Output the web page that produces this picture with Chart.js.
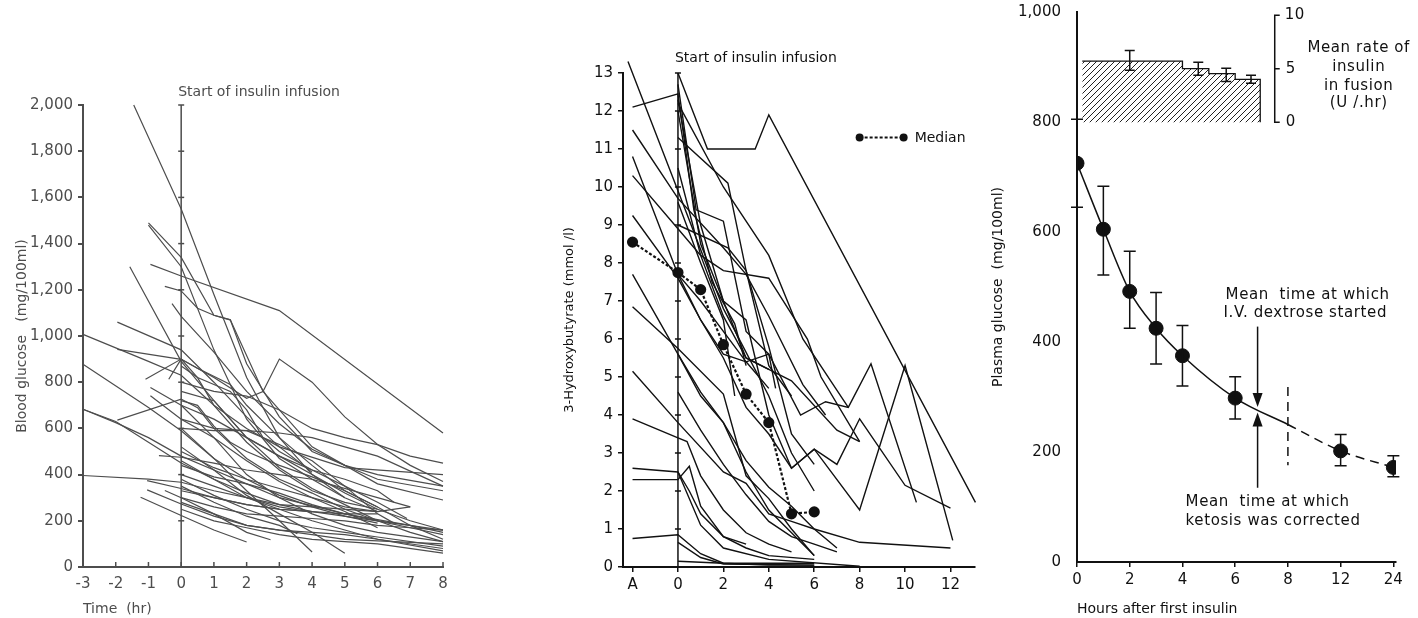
<!DOCTYPE html>
<html>
<head>
<meta charset="utf-8">
<script src="https://cdn.jsdelivr.net/npm/chart.js@4.4.0/dist/chart.umd.min.js"></script>
<style>
  body { margin: 0; background: #fff; width: 1418px; height: 618px; overflow: hidden; position: relative; }
  canvas { position: absolute; top: 0; }
</style>
</head>
<body>
<canvas id="bg" style="left:0px" width="470" height="618"></canvas>
<canvas id="hb" style="left:540px" width="450" height="618"></canvas>
<canvas id="pg" style="left:960px" width="458" height="618"></canvas>
<script>
const FONT = 'DejaVu Sans';

// ---- left panel: blood glucose per patient, [hour, mg/100ml]
const bgLines = [
  [[-1.45,2000],[0,1550],[1,1180],[2,820],[3,560],[4,400],[5,300],[6,240]],
  [[-1,1490],[0,1340],[1,1090],[1.5,1070],[2.5,760],[4,520],[6,360],[8,290]],
  [[-1,1480],[0,1300],[1,940],[2,640],[3,470],[4,380],[5,300]],
  [[-0.94,1310],[0,1260],[3,1110],[8,580]],
  [[-1.57,1300],[0,890],[1,720],[2,560],[3,430],[4,340],[5,270],[6,200]],
  [[-0.5,1215],[0,1195],[0.5,1120],[1,1090],[1.5,1070],[2,880],[3,650],[4,500],[6,380],[8,330]],
  [[-0.28,1140],[0,1085],[1,930],[2,760],[3,620],[4,510],[5,440],[6,400],[8,350]],
  [[-1.95,1060],[0,940],[1,800],[2,650],[3,520],[4,410]],
  [[-3,1007],[-1,890],[0,830],[1,700],[2,600],[3,520],[5,430],[8,400]],
  [[-1.95,942],[0,899],[1,820],[2,730],[2.5,760],[3,900],[4,800],[5,650],[6,530],[7,440],[8,370]],
  [[-3,878],[-1,690],[0,590],[1,470],[2,380],[3,310],[4,260],[5,220],[6,190]],
  [[-3,683],[-2,630],[-1,540],[0,450],[1,380],[2,320],[3,270],[4,240],[6,200],[8,160]],
  [[-3,683],[-2,625],[-1,560],[0,480],[1,420],[2,360],[3,300],[5,230],[7,180],[8,150]],
  [[-3,396],[-1,380],[0,367],[1,330],[2,300],[3,270],[4,260],[6,240],[7,260]],
  [[-1.95,636],[0,727],[0.5,690],[1,600],[2,470],[3,380],[4,320],[5,250],[6,200],[7,150],[8,110]],
  [[-1.09,813],[0,900],[0.5,860],[1.5,790],[2,700],[3,560],[4,440],[5,330],[6,260]],
  [[-0.38,813],[0,900],[0.5,820],[1,700],[2,540],[3,420],[4,330],[5,280],[6,250]],
  [[-0.94,777],[0,700],[1,640],[2,560],[3,480],[4,400],[5,320],[6,250],[7,200],[8,160]],
  [[-0.94,741],[0,640],[1,560],[2,460],[3,370],[4,300],[5,240],[6,170]],
  [[-0.68,482],[0,475],[1,450],[2,420],[3,400],[4,380],[6,300],[7,260]],
  [[-1.04,374],[0,340],[1,300],[2,270],[3,250],[4,240]],
  [[-1.04,334],[0,273],[1,220],[2,180],[3,160],[4,140],[5,120],[8,100]],
  [[-1.24,302],[0,223],[1,160],[2,108]],
  [[-0.5,331],[0,300],[1,230],[2,150],[2.73,118]],
  [[0,800],[0.5,780],[1,760],[2,740],[3,680],[4,600],[5,560],[6,530],[7,480],[8,450]],
  [[0,760],[1,720],[1.5,640],[2,560],[3,480],[4,420],[5,350],[6,280],[6.9,210]],
  [[0,720],[0.5,700],[1,610],[1.5,540],[2,500],[3,440],[4,390],[5,330],[6,260],[7,180],[8,120]],
  [[0,700],[1,560],[2,400],[3,300],[4,230],[5,180],[6,150],[8,110]],
  [[0,600],[1,590],[2,590],[3,580],[4,560],[6,480],[8,350]],
  [[0,640],[1,600],[2,590],[3,530],[4,460],[5,350],[6,230],[6.5,190]],
  [[0,600],[1,470],[2,330],[3,200],[4,65]],
  [[0,520],[1,420],[2,310],[3,230],[4,150],[5,60]],
  [[0,500],[1,430],[2,380],[3,340],[4,300],[5,260],[6,240]],
  [[0,460],[1,380],[2,300],[3,260],[4,237]],
  [[0,440],[1,390],[2,360],[3,320],[4,270],[5,230],[6,200],[7,170],[8,140]],
  [[0,400],[1,350],[2,300],[3,250],[4,200],[5,160],[6,120],[8,80]],
  [[0,380],[1,310],[2,250],[3,200],[4,170],[5,150],[6,130],[8,90]],
  [[0,350],[1,280],[2,220],[3,180],[3.55,144]],
  [[0,330],[1,300],[2,270],[3,250],[4,240],[5,230],[6,230]],
  [[0,300],[1,260],[2,230],[3,220],[4,210],[5,200],[6,180],[7,170],[8,160]],
  [[0,280],[1,230],[2,180],[3,160],[4,150],[5,140],[6,120],[8,70]],
  [[0,250],[1,200],[2,170],[3,140],[4,120],[6,100],[8,60]],
  [[0,870],[0.5,820],[1.5,760],[2,680],[2.5,560],[3,500],[4,420],[5,380],[6,330],[6.5,280]]
];

// ---- middle panel: 3-hydroxybutyrate per patient, [hour, mmol/l]; A plotted at -2
const hbLines = [
  [[-2.2,13.3],[0,9.9],[2,6.8],[4,4.5],[5,3.0],[6,2.0]],
  [[-2,12.1],[0,12.45],[0.7,9.4],[1.5,7.5],[2.5,6.4],[3,5.3]],
  [[-2,11.5],[0,9.7],[2,8.4],[3,7.7],[4,6.6],[5.5,4.8],[6.5,4.0]],
  [[-2,10.8],[0,7.7],[1,6.5],[2,5.6],[3,5.4],[4,5.6],[4.3,4.7]],
  [[-2,10.3],[0,8.9],[1,8.2],[2,7.8],[4,7.6],[5.7,6.0],[6.3,5.0],[8,3.3]],
  [[-2,9.25],[0,7.6],[1,6.5],[2,5.5],[3,4.2],[4,3.5],[5,2.6],[6,3.1],[8,1.5],[10,5.3],[12.1,0.7]],
  [[-2,7.7],[0,5.6],[1,4.6],[2,3.8],[3,2.8],[4,2.1],[5,1.6],[6,1.0],[7,0.5]],
  [[-2,6.85],[0,5.75],[2,4.55],[3,2.4],[4,1.8],[5,1.0],[6,0.3]],
  [[-2,5.15],[0,3.8],[2,2.5],[3,2.2],[4,1.4],[5,1.2],[6,1.0],[8,0.65],[12,0.5]],
  [[-2,3.9],[0,3.4],[0.4,3.3],[1,2.4],[2,1.5],[3,0.9],[4,0.6],[5,0.4]],
  [[-2,2.6],[0,2.5],[0.5,2.0],[1,1.4],[2,0.8],[3,0.6]],
  [[-2,2.3],[0,2.3],[0.5,2.65],[1,1.6],[2,0.8],[3,0.5],[4,0.3],[6,0.2]],
  [[-2,0.75],[0,0.85],[1,0.35],[2,0.1],[4,0.05],[6,0.05]],
  [[0,0.65],[1,0.25],[2,0.08],[6,0.05]],
  [[0,0.15],[2,0.1],[6,0.1]],
  [[0,13],[1.3,11],[3.4,11],[4,11.9],[13.1,1.7]],
  [[0,12.7],[0.8,9.4],[2,9.1],[3,6.2],[4,5.6],[5.4,4.0],[6.5,4.35],[7.5,4.2],[8.5,5.35],[10.5,1.7]],
  [[0,11.3],[2.2,10.1],[3,7.8],[4,5.3],[5,4.5]],
  [[0,12.3],[1,9.0],[2,7.0],[3,5.5],[4,5.2],[5,4.9],[7,3.6],[8,3.3]],
  [[0,9.6],[1,8.0],[2,6.5],[2.5,4.5]],
  [[0,4.6],[1,3.6],[2,2.7],[3,1.9],[4,1.2],[5,0.8],[6,0.6],[7,0.4]],
  [[0,5.6],[1,4.5],[2,3.8],[3,2.5],[4,1.5],[5,0.9],[6,0.3]],
  [[0,12.0],[1,8.5],[2,7.0],[3,6.5],[4,4.0],[5,2.6],[6,3.1],[7,2.7],[8,3.9],[10,2.15],[12,1.55]],
  [[0,10.5],[1,8.2],[2,6.6],[3,5.5],[4,5.2]],
  [[0,7.7],[1,7.0],[2,6.2],[3,5.4],[4,4.7]],
  [[0,9.0],[2.2,8.4],[3,7.8],[4,5.8],[5,3.5],[6,2.7]],
  [[0,12.2],[2,10],[4,8.2],[5.5,6.0],[7.5,4.2]],
  [[0,2.5],[1,1.1],[2,0.5],[4,0.2],[8,0.02]]
];
const hbMedianHours = [-2, 0, 1, 2, 3, 4, 5, 6];
const hbMedian = [8.55, 7.75, 7.3, 5.85, 4.55, 3.8, 1.4, 1.45];
const hbTickHours = [-2, 0, 2, 4, 6, 8, 10, 12];
const hbTickLabels = ['A', '0', '2', '4', '6', '8', '10', '12'];

// ---- right panel: mean plasma glucose (mg/100ml)
const pgHours = [0, 1, 2, 3, 4, 6, 12, 24];
const pgMean = [725, 605, 492, 425, 375, 298, 202, 172];
const pgLow = [645, 522, 425, 360, 320, 260, 175, 155];
const pgHigh = [805, 683, 565, 490, 430, 337, 232, 193];
const pgCurveHours = [0, 1, 2, 3, 4, 6, 8];
const pgCurve = [725, 605, 492, 425, 375, 298, 250];
const pgDashHours = [8, 12, 24];
const pgDash = [250, 202, 172];
const pgTickHours = [0, 2, 4, 6, 8, 12, 24];
// insulin infusion rate (U/hr)
const insHours = [0.2, 4, 5, 6, 6.95];
const insRate = [5.7, 5.0, 4.55, 4.0, 4.0];
const insBarHours = [2, 4.6, 5.66, 6.6];
const insBarMean = [5.7, 5.0, 4.55, 4.0];
const insBarLow = [4.85, 4.4, 3.8, 3.65];
const insBarHigh = [6.7, 5.6, 5.05, 4.4];
const ketosisHour = 6.85;

// hours axis of the right panel is squeezed after 8 h
function hpos(h) {
  if (h <= 8) return h / 2;
  if (h <= 12) return 4 + (h - 8) / 4;
  return 5 + (h - 12) / 12;
}

function xy(xs, ys) { return xs.map((x, i) => ({x: x, y: ys[i]})); }

function spaghetti(lines, color, width) {
  return lines.map(l => ({
    data: l.map(p => ({x: p[0], y: p[1]})),
    borderColor: color, borderWidth: width,
    pointRadius: 0, tension: 0, clip: false
  }));
}

// ---------------- left: blood glucose
const grey = '#4d4d4d';
new Chart(document.getElementById('bg'), {
  type: 'line',
  data: { datasets: spaghetti(bgLines, grey, 1.2) },
  options: {
    responsive: false, animation: false,
    layout: { padding: { top: 105, right: 27, left: 0, bottom: 0 } },
    plugins: { legend: { display: false }, tooltip: { enabled: false } },
    scales: {
      x: {
        type: 'linear', min: -3, max: 8,
        afterFit: s => { s.height = 51; },
        border: { color: grey, width: 2 },
        grid: { drawOnChartArea: false, drawTicks: false },
        ticks: { stepSize: 1, color: grey, padding: 8, font: { family: FONT, size: 15 },
                 callback: v => String(v) },
        title: { display: true, text: 'Time  (hr)', align: 'start', color: grey,
                 padding: { top: 0, bottom: 0 }, font: { family: FONT, size: 14 } }
      },
      y: {
        min: 0, max: 2000,
        afterFit: s => { s.width = 83; },
        border: { color: grey, width: 2 },
        grid: { drawOnChartArea: false, tickLength: 5, color: grey, lineWidth: 2 },
        ticks: { stepSize: 200, color: grey, padding: 5, font: { family: FONT, size: 15 },
                 callback: v => v.toLocaleString('en-US') },
        title: { display: true, text: 'Blood glucose   (mg/100ml)', color: grey,
                 padding: { top: 14, bottom: 0 }, font: { family: FONT, size: 14 } }
      }
    }
  },
  plugins: [{
    id: 'bgDecor',
    afterDraw(chart) {
      const c = chart.ctx, x = chart.scales.x, y = chart.scales.y;
      c.save();
      c.strokeStyle = grey; c.lineWidth = 1.5;
      const x0 = x.getPixelForValue(0);
      c.beginPath(); c.moveTo(x0, y.getPixelForValue(0)); c.lineTo(x0, y.getPixelForValue(2000)); c.stroke();
      for (let v = 200; v <= 2000; v += 200) {
        const py = y.getPixelForValue(v);
        c.beginPath(); c.moveTo(x0 - 3, py); c.lineTo(x0 + 3, py); c.stroke();
      }
      const base = y.getPixelForValue(0);
      for (let h = -2; h <= 8; h++) {
        const px = x.getPixelForValue(h);
        c.beginPath(); c.moveTo(px, base); c.lineTo(px, base - 5); c.stroke();
      }
      c.fillStyle = grey; c.font = '14px ' + FONT; c.textBaseline = 'middle';
      c.fillText('Start of insulin infusion', x0 - 3, 92);
      c.restore();
    }
  }]
});

// ---------------- middle: 3-hydroxybutyrate
const ink = '#111';
const hbSets = spaghetti(hbLines, ink, 1.4);
hbSets.push({
  data: xy(hbMedianHours, hbMedian),
  borderColor: ink, borderWidth: 2.2, borderDash: [3, 2],
  pointRadius: 4.5, pointBackgroundColor: ink, pointBorderColor: ink, tension: 0, clip: false
});
new Chart(document.getElementById('hb'), {
  type: 'line',
  data: { datasets: hbSets },
  options: {
    responsive: false, animation: false,
    layout: { padding: { top: 73, right: 15, left: 0, bottom: 0 } },
    plugins: { legend: { display: false }, tooltip: { enabled: false } },
    scales: {
      x: {
        type: 'linear', min: -2.42, max: 13.08,
        afterFit: s => { s.height = 51; },
        afterBuildTicks: s => { s.ticks = hbTickHours.map(v => ({value: v})); },
        border: { color: ink, width: 2 },
        grid: { drawOnChartArea: false, tickLength: 5, color: ink, lineWidth: 1.5 },
        ticks: { color: ink, padding: 4, font: { family: FONT, size: 15 },
                 callback: (v, i) => hbTickLabels[i] }
      },
      y: {
        min: 0, max: 13,
        afterFit: s => { s.width = 83; },
        border: { color: ink, width: 2 },
        grid: { drawOnChartArea: false, tickLength: 5, color: ink, lineWidth: 1.5 },
        ticks: { stepSize: 1, color: ink, padding: 5, font: { family: FONT, size: 15 } },
        title: { display: true, text: '3-Hydroxybutyrate (mmol /l)', color: ink,
                 padding: { top: 22, bottom: 0 }, font: { family: FONT, size: 13 } }
      }
    }
  },
  plugins: [{
    id: 'hbDecor',
    afterDraw(chart) {
      const c = chart.ctx, x = chart.scales.x, y = chart.scales.y;
      c.save();
      c.strokeStyle = ink; c.fillStyle = ink; c.lineWidth = 1.5;
      const x0 = x.getPixelForValue(0);
      c.beginPath(); c.moveTo(x0, y.getPixelForValue(0)); c.lineTo(x0, y.getPixelForValue(13)); c.stroke();
      for (let v = 1; v <= 13; v++) {
        const py = y.getPixelForValue(v);
        c.beginPath(); c.moveTo(x0 - 3, py); c.lineTo(x0 + 3, py); c.stroke();
      }
      c.font = '14px ' + FONT; c.textBaseline = 'middle';
      c.fillText('Start of insulin infusion', x0 - 3, 58);
      // legend
      const lx = x.getPixelForValue(8), ly = y.getPixelForValue(11.3);
      c.lineWidth = 2; c.setLineDash([3, 2]);
      c.beginPath(); c.moveTo(lx, ly); c.lineTo(lx + 44, ly); c.stroke();
      c.setLineDash([]);
      [lx, lx + 44].forEach(px => { c.beginPath(); c.arc(px, ly, 4, 0, Math.PI * 2); c.fill(); });
      c.fillText('Median', lx + 55, ly + 1);
      c.restore();
    }
  }]
});

// ---------------- right: plasma glucose and insulin inset
function hatch() {
  const p = document.createElement('canvas');
  p.width = 6; p.height = 6;
  const g = p.getContext('2d');
  g.strokeStyle = '#222'; g.lineWidth = 1;
  g.beginPath(); g.moveTo(0, 6); g.lineTo(6, 0); g.moveTo(-1, 1); g.lineTo(1, -1); g.moveTo(5, 7); g.lineTo(7, 5); g.stroke();
  return g.createPattern(p, 'repeat');
}

const insPts = xy(insHours.map(hpos), insRate);
insPts.push({x: hpos(insHours[insHours.length - 1]), y: 0});
new Chart(document.getElementById('pg'), {
  type: 'line',
  data: {
    datasets: [
      { data: insPts, yAxisID: 'yi', stepped: 'before', borderColor: ink, borderWidth: 1.3,
        backgroundColor: hatch(), fill: { value: 0 }, pointRadius: 0 },
      { data: xy(pgCurveHours.map(hpos), pgCurve), borderColor: ink, borderWidth: 1.5,
        cubicInterpolationMode: 'monotone', pointRadius: 0 },
      { data: xy(pgDashHours.map(hpos), pgDash), borderColor: ink, borderWidth: 1.5, borderDash: [9, 6],
        cubicInterpolationMode: 'monotone', pointRadius: 0 },
      { data: xy(pgHours.map(hpos), pgMean), showLine: false, pointRadius: 7,
        pointBackgroundColor: ink, pointBorderColor: ink }
    ]
  },
  options: {
    responsive: false, animation: false,
    layout: { padding: { top: 12, right: 22, left: 0, bottom: 0 } },
    plugins: { legend: { display: false }, tooltip: { enabled: false } },
    scales: {
      x: {
        type: 'linear', min: 0, max: 6.05,
        afterFit: s => { s.height = 56; },
        afterBuildTicks: s => { s.ticks = pgTickHours.map(h => ({value: hpos(h)})); },
        border: { color: ink, width: 2 },
        grid: { drawOnChartArea: false, tickLength: 5, color: ink, lineWidth: 1.5 },
        ticks: { color: ink, padding: 4, font: { family: FONT, size: 15 },
                 callback: (v, i) => String(pgTickHours[i]) },
        title: { display: true, text: 'Hours after first insulin', align: 'start', color: ink,
                 padding: { top: 0, bottom: 0 }, font: { family: FONT, size: 14 } }
      },
      y: {
        min: 0, max: 1000,
        afterFit: s => { s.width = 117; s.paddingTop = 0; s.paddingBottom = 0; },
        border: { color: ink, width: 2 },
        grid: { drawOnChartArea: false, drawTicks: false },
        ticks: { stepSize: 200, color: ink, padding: 16, font: { family: FONT, size: 15 },
                 callback: v => v.toLocaleString('en-US') },
        title: { display: true, text: 'Plasma glucose  (mg/100ml)', color: ink,
                 padding: { top: 30, bottom: 0 }, font: { family: FONT, size: 14 } }
      },
      yi: { display: false, min: -41.1, max: 10.3 }
    }
  },
  plugins: [{
    id: 'pgDecor',
    afterDraw(chart) {
      const c = chart.ctx, x = chart.scales.x, y = chart.scales.y, yi = chart.scales.yi;
      c.save();
      c.strokeStyle = ink; c.fillStyle = ink; c.lineWidth = 1.5;
      const bar = (px, lo, hi, cap) => {
        c.beginPath();
        c.moveTo(px, lo); c.lineTo(px, hi);
        c.moveTo(px - cap, lo); c.lineTo(px + cap, lo);
        c.moveTo(px - cap, hi); c.lineTo(px + cap, hi);
        c.stroke();
      };
      pgHours.forEach((h, i) => bar(x.getPixelForValue(hpos(h)), y.getPixelForValue(pgLow[i]), y.getPixelForValue(pgHigh[i]), 6));
      insBarHours.forEach((h, i) => bar(x.getPixelForValue(hpos(h)), yi.getPixelForValue(insBarLow[i]), yi.getPixelForValue(insBarHigh[i]), 5));
      // dashed divider at 8 h
      const x8 = x.getPixelForValue(hpos(8));
      c.setLineDash([9, 6]);
      c.beginPath(); c.moveTo(x8, y.getPixelForValue(318)); c.lineTo(x8, y.getPixelForValue(176)); c.stroke();
      c.setLineDash([]);
      // arrows at ketosis time
      const xa = x.getPixelForValue(hpos(ketosisHour));
      const down = y.getPixelForValue(282), up = y.getPixelForValue(272);
      c.beginPath(); c.moveTo(xa, y.getPixelForValue(428)); c.lineTo(xa, down - 12); c.stroke();
      c.beginPath(); c.moveTo(xa - 5, down - 14); c.lineTo(xa + 5, down - 14); c.lineTo(xa, down); c.closePath(); c.fill();
      c.beginPath(); c.moveTo(xa, y.getPixelForValue(135)); c.lineTo(xa, up + 12); c.stroke();
      c.beginPath(); c.moveTo(xa - 5, up + 14); c.lineTo(xa + 5, up + 14); c.lineTo(xa, up); c.closePath(); c.fill();
      // annotations
      c.font = '15px ' + FONT; c.textBaseline = 'middle';
      c.letterSpacing = '0.6px';
      c.fillText('Mean  time at which', xa - 32, y.getPixelForValue(485));
      c.fillText('I.V. dextrose started', xa - 34, y.getPixelForValue(452));
      c.fillText('Mean  time at which', xa - 72, y.getPixelForValue(108));
      c.fillText('ketosis was corrected', xa - 72, y.getPixelForValue(75));
      // insulin scale bracket
      const bx = x.getPixelForValue(3.75);
      const t0 = yi.getPixelForValue(0), t5 = yi.getPixelForValue(5), t10 = yi.getPixelForValue(10);
      c.beginPath();
      c.moveTo(bx + 5, t10); c.lineTo(bx, t10); c.lineTo(bx, t0); c.lineTo(bx + 5, t0);
      c.moveTo(bx, t5); c.lineTo(bx + 5, t5);
      c.stroke();
      c.fillText('10', bx + 10, t10);
      c.fillText('5', bx + 11, t5);
      c.fillText('0', bx + 11, t0);
      c.textAlign = 'center';
      const cx = bx + 84;
      c.fillText('Mean rate of', cx, t10 + 33);
      c.fillText('insulin', cx, t10 + 52);
      c.fillText('in fusion', cx, t10 + 71);
      c.fillText('(U /.hr)', cx, t10 + 88);
      c.restore();
    }
  }]
});
</script>
</body>
</html>
